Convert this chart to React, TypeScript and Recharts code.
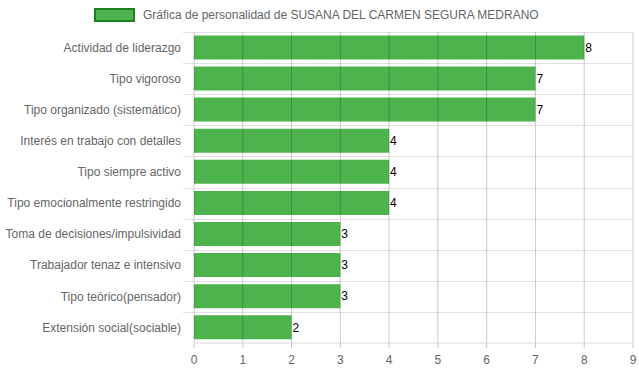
import React from "react";
import { BarChart, Bar, XAxis, YAxis, LabelList, ReferenceLine } from "recharts";

const categories = [
  "Actividad de liderazgo",
  "Tipo vigoroso",
  "Tipo organizado (sistemático)",
  "Interés en trabajo con detalles",
  "Tipo siempre activo",
  "Tipo emocionalmente restringido",
  "Toma de decisiones/impulsividad",
  "Trabajador tenaz e intensivo",
  "Tipo teórico(pensador)",
  "Extensión social(sociable)",
];
const values = [8, 7, 7, 4, 4, 4, 3, 3, 3, 2];
const xTicks = [0, 1, 2, 3, 4, 5, 6, 7, 8, 9];
const legendLabel = "Gráfica de personalidad de SUSANA DEL CARMEN SEGURA MEDRANO";

const data = categories.map((name, i) => ({ name, value: values[i] }));

const FONT = "'Liberation Sans', Arial, Helvetica, sans-serif";
const BAR = "#4db34d";
const CHART_W = 639;
const CHART_H = 372;
const MARGIN = { top: 32, right: 6, bottom: 0, left: 0 };
const YAXIS_W = 194;
const XAXIS_H = 29;
const PLOT_RIGHT = CHART_W - MARGIN.right;
const PLOT_H = CHART_H - MARGIN.top - MARGIN.bottom - XAXIS_H;
const BAND = PLOT_H / categories.length;

const YTick = (props: any) => {
  const { x, y, payload } = props;
  return (
    <text x={x - 13} y={y} dy="0.35em" textAnchor="end" fill="#666" fontSize={12} fontFamily={FONT}>
      {payload.value}
    </text>
  );
};

// Horizontal grid lines at category band boundaries (layer behind the chart)
const BandGrid = () => (
  <svg
    width={CHART_W}
    height={CHART_H}
    style={{ position: "absolute", left: 0, top: 0 }}
  >
    {categories.map((c, i) => {
      const y = Math.round(MARGIN.top + i * BAND) + 0.5;
      return (
        <line key={c} x1={YAXIS_W - 11} x2={PLOT_RIGHT} y1={y} y2={y} stroke="#e2e2e2" strokeWidth={1} />
      );
    })}
  </svg>
);

export default function App() {
  return (
    <div style={{ position: "absolute", left: 0, top: 0, width: CHART_W, height: CHART_H, background: "#fff" }}>
      <BandGrid />
      <div
        style={{
          position: "absolute",
          left: 94,
          top: 8,
          display: "flex",
          alignItems: "center",
          fontFamily: FONT,
          fontSize: 12,
          color: "#666",
          whiteSpace: "nowrap",
        }}
      >
        <div
          style={{
            width: 37,
            height: 10,
            background: BAR,
            border: "2px solid #1f7f1f",
            marginRight: 8,
          }}
        />
        <span>{legendLabel}</span>
      </div>
      <div style={{ position: "absolute", left: 0, top: 0 }}>
        <BarChart
          width={CHART_W}
          height={CHART_H}
          data={data}
          layout="vertical"
          margin={MARGIN}
          barCategoryGap="11%"
        >
          <XAxis
            type="number"
            domain={[0, 9]}
            ticks={xTicks}
            interval={0}
            height={XAXIS_H}
            axisLine={{ stroke: "#dadada" }}
            tickLine={{ stroke: "#c6c6c6" }}
            tickSize={5}
            tickMargin={7}
            tick={{ fill: "#666", fontSize: 12, fontFamily: FONT }}
          />
          <YAxis
            type="category"
            dataKey="name"
            width={YAXIS_W}
            axisLine={false}
            tickLine={false}
            tickSize={0}
            tickMargin={0}
            interval={0}
            tick={<YTick />}
          />
          <Bar dataKey="value" fill={BAR} isAnimationActive={false}>
            <LabelList
              dataKey="value"
              position="right"
              offset={1}
              fill="#000"
              fontSize={12}
              fontFamily={FONT}
            />
          </Bar>
          {xTicks.map((t) => (
            <ReferenceLine key={"v-" + t} x={t} stroke="rgba(0,0,0,0.2)" strokeWidth={1} />
          ))}
        </BarChart>
      </div>
    </div>
  );
}
